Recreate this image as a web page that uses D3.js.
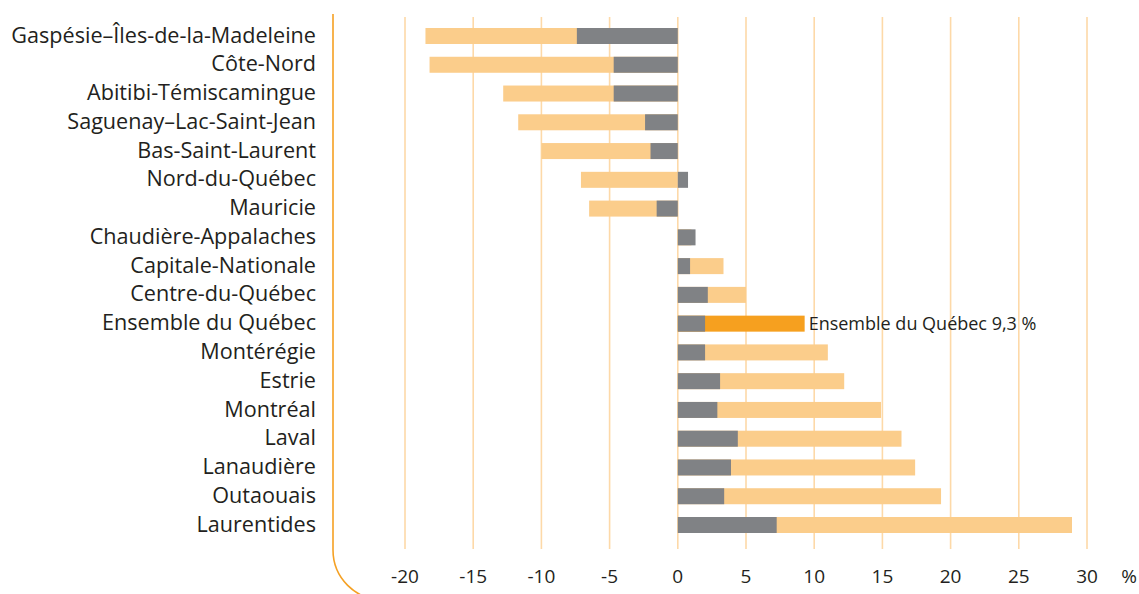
<!DOCTYPE html>
<html>
<head>
<meta charset="utf-8">
<script src="https://cdn.jsdelivr.net/npm/d3@7"></script>
<style>
  body { margin: 0; background: #fff; }
  svg text { font-family: "Open Sans", sans-serif; fill: #231f20; }
</style>
</head>
<body>
<svg id="chart" width="1139" height="594"></svg>
<script>
// regions, top to bottom
const regions = [
    "Gaspésie–Îles-de-la-Madeleine", "Côte-Nord", "Abitibi-Témiscamingue",
    "Saguenay–Lac-Saint-Jean", "Bas-Saint-Laurent", "Nord-du-Québec", "Mauricie",
    "Chaudière-Appalaches", "Capitale-Nationale", "Centre-du-Québec",
    "Ensemble du Québec", "Montérégie", "Estrie", "Montréal", "Laval",
    "Lanaudière", "Outaouais", "Laurentides"
]
// total change (light orange bar), %
const totalValues = [-18.5, -18.2, -12.8, -11.7, -10.0, -7.1, -6.5,
    1.0, 3.35, 5.0, 9.3, 11.0, 12.2, 14.9, 16.4, 17.4, 19.3, 28.9]
// component shown in grey, %
const greyValues = [-7.4, -4.7, -4.7, -2.4, -2.0, 0.75, -1.55,
    1.3, 0.9, 2.2, 2.0, 2.0, 3.1, 2.9, 4.4, 3.9, 3.4, 7.25]
const xTicks = [-20, -15, -10, -5, 0, 5, 10, 15, 20, 25, 30]
const highlight = "Ensemble du Québec"
const highlightLabel = "Ensemble du Québec 9,3 %"

const svg = d3.select("#chart")

const x = d3.scaleLinear()
    .domain([-20, 30])
    .range([405, 1087])

const y = d3.scalePoint()
    .domain(regions)
    .range([36, 525])

const barH = 16

// vertical grid
svg.append("g")
    .selectAll("line")
    .data(xTicks)
    .enter()
    .append("line")
    .attr("x1", d => x(d))
    .attr("x2", d => x(d))
    .attr("y1", 17)
    .attr("y2", 549)
    .attr("stroke", "#fdd9a8")
    .attr("stroke-width", 1.6)

// tick labels
svg.append("g")
    .selectAll("text")
    .data(xTicks)
    .enter()
    .append("text")
    .attr("x", d => x(d))
    .attr("y", 583)
    .attr("text-anchor", "middle")
    .attr("font-size", 19)
    .text(d => d)

svg.append("text")
    .attr("x", 1129)
    .attr("y", 583)
    .attr("text-anchor", "middle")
    .attr("font-size", 19)
    .text("%")

// left axis with the rounded corner
svg.append("path")
    .attr("d", "M333,14 L333,550 A50,50 0 0 0 383,600")
    .attr("fill", "none")
    .attr("stroke", "#f5a124")
    .attr("stroke-width", 1.6)

const rows = regions.map((r, i) => ({ name: r, total: totalValues[i], grey: greyValues[i] }))

// total bars
svg.append("g")
    .selectAll("rect")
    .data(rows)
    .enter()
    .append("rect")
    .attr("x", d => x(Math.min(0, d.total)))
    .attr("width", d => Math.abs(x(d.total) - x(0)))
    .attr("y", d => y(d.name) - barH / 2)
    .attr("height", barH)
    .attr("fill", d => d.name == highlight ? "#f6a01f" : "#fbcd8b")

// grey bars on top
svg.append("g")
    .selectAll("rect")
    .data(rows)
    .enter()
    .append("rect")
    .attr("x", d => x(Math.min(0, d.grey)))
    .attr("width", d => Math.abs(x(d.grey) - x(0)))
    .attr("y", d => y(d.name) - barH / 2)
    .attr("height", barH)
    .attr("fill", "#808285")

// region labels
svg.append("g")
    .selectAll("text")
    .data(regions)
    .enter()
    .append("text")
    .attr("x", 316)
    .attr("y", d => y(d) - 1)
    .attr("dy", "0.35em")
    .attr("text-anchor", "end")
    .attr("font-size", 21.6)
    .text(d => d)

// annotation for the whole province
const hl = rows.find(r => r.name == highlight)
svg.append("text")
    .attr("x", x(hl.total) + 4)
    .attr("y", y(highlight))
    .attr("dy", "0.35em")
    .attr("font-size", 18)
    .text(highlightLabel)
</script>
</body>
</html>
